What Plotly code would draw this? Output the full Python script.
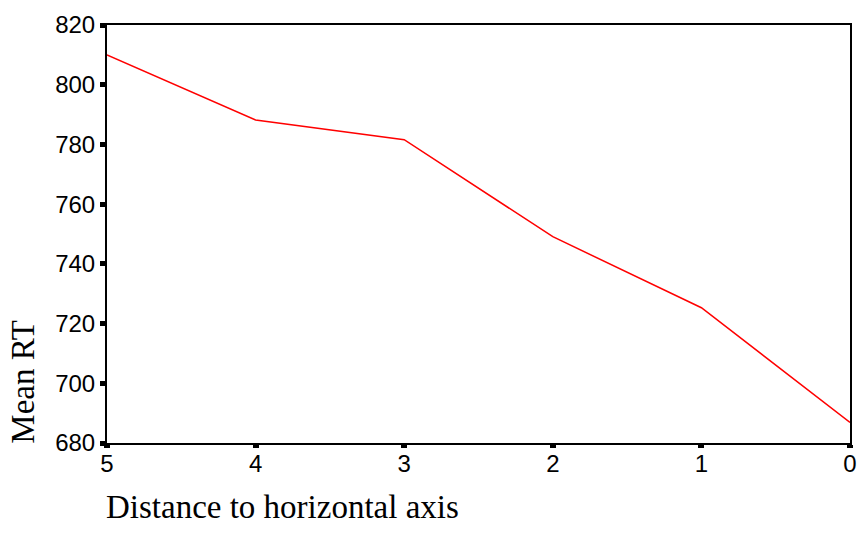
import plotly.graph_objects as go

categories = ["5", "4", "3", "2", "1", "0"]
mean_rt = [810.0, 788.2, 781.6, 749.1, 725.3, 686.9]

fig = go.Figure()
fig.add_trace(go.Scatter(x=categories, y=mean_rt, mode="lines",
                         line=dict(color="#ff0000", width=1.5), showlegend=False))

fig.update_layout(
    width=868, height=536,
    margin=dict(l=107, r=11, t=19, b=93),
    plot_bgcolor="white", paper_bgcolor="white",
    xaxis=dict(type="category", range=[0, 5], showgrid=False, zeroline=False,
               showline=True, linecolor="black", linewidth=2, mirror=True,
               ticks="outside", ticklen=3, tickwidth=6, tickcolor="black",
               ticklabelstandoff=-5,
               tickfont=dict(family="Liberation Sans, Arial", size=24, color="black")),
    yaxis=dict(range=[680, 820], tickvals=[680, 700, 720, 740, 760, 780, 800, 820],
               showgrid=False, zeroline=False,
               showline=True, linecolor="black", linewidth=2, mirror=True,
               ticks="outside", ticklen=5, tickwidth=5, tickcolor="black",
               tickfont=dict(family="Liberation Sans, Arial", size=24, color="black")),
    annotations=[
        dict(text="Mean RT", textangle=-90, xref="paper", yref="paper",
             x=(22-107)/750, y=(536-93-381)/424, xanchor="center", yanchor="middle",
             showarrow=False,
             font=dict(family="Liberation Serif, Times New Roman", size=33, color="black")),
        dict(text="Distance to horizontal axis", xref="paper", yref="paper",
             x=(104-107)/750, y=-(508-443)/424, xanchor="left", yanchor="middle",
             showarrow=False,
             font=dict(family="Liberation Serif, Times New Roman", size=33, color="black")),
    ],
)

fig.write_html("out.html")
